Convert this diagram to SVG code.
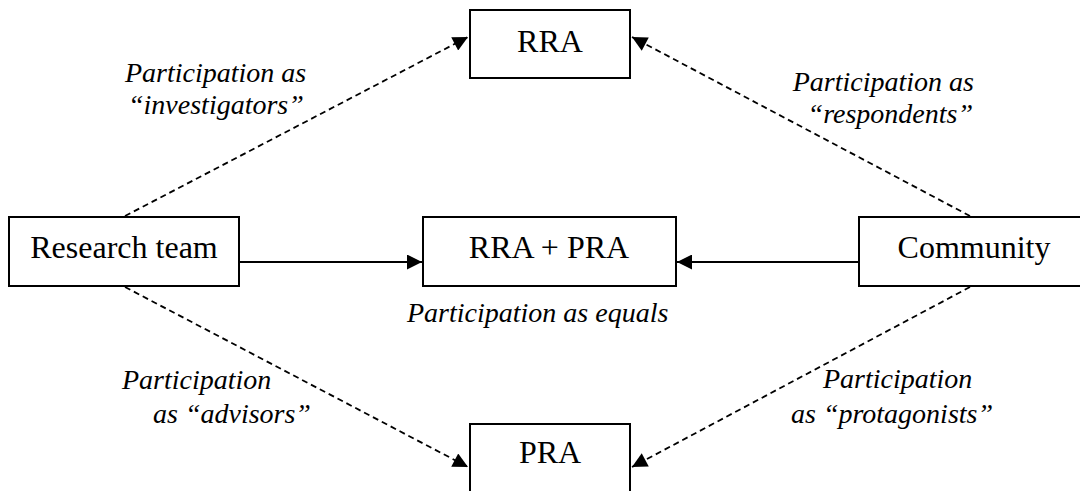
<svg xmlns="http://www.w3.org/2000/svg" width="1080" height="491" viewBox="0 0 1080 491">
  <style>
    .box { fill: #ffffff; stroke: #000000; stroke-width: 2; }
    .name { font-family: "Liberation Serif", "Times New Roman", serif; font-size: 32px; fill: #000000; }
    .note { font-family: "Liberation Serif", "Times New Roman", serif; font-size: 28px; font-style: italic; fill: #000000; }
    .solid { stroke: #000000; stroke-width: 2; fill: none; }
    .dash { stroke: #000000; stroke-width: 1.8; fill: none; stroke-dasharray: 6 4; }
  </style>
  <defs>
    <marker id="head" viewBox="0 0 10 10" refX="10" refY="5" markerWidth="17" markerHeight="15" markerUnits="userSpaceOnUse" orient="auto">
      <path d="M0,0 L10,5 L0,10 Z" fill="#000000"/>
    </marker>
  </defs>

  <rect width="1080" height="491" fill="#ffffff"/>

  <!-- connectors -->
  <g id="connectors">
    <line class="solid" x1="239" y1="262" x2="422" y2="262" marker-end="url(#head)"/>
    <line class="solid" x1="859" y1="262" x2="677" y2="262" marker-end="url(#head)"/>
    <line class="dash" x1="125" y1="216" x2="468" y2="37" marker-end="url(#head)"/>
    <line class="dash" x1="970" y1="216" x2="632" y2="37" marker-end="url(#head)"/>
    <line class="dash" x1="125" y1="287" x2="468" y2="467" marker-end="url(#head)"/>
    <line class="dash" x1="970" y1="287" x2="632" y2="467" marker-end="url(#head)"/>
  </g>

  <!-- nodes -->
  <g id="node-rra">
    <rect class="box" x="470" y="10" width="160" height="68"/>
    <text class="name" x="550" y="52" text-anchor="middle">RRA</text>
  </g>
  <g id="node-research-team">
    <rect class="box" x="9" y="217" width="230" height="69"/>
    <text class="name" x="124" y="258" text-anchor="middle">Research team</text>
  </g>
  <g id="node-rra-pra">
    <rect class="box" x="423" y="217" width="253" height="69"/>
    <text class="name" x="549" y="258" text-anchor="middle">RRA + PRA</text>
  </g>
  <g id="node-community">
    <rect class="box" x="859" y="217" width="240" height="69"/>
    <text class="name" x="974" y="258" text-anchor="middle">Community</text>
  </g>
  <g id="node-pra">
    <rect class="box" x="470" y="424" width="160" height="80"/>
    <text class="name" x="550" y="463" text-anchor="middle">PRA</text>
  </g>

  <!-- labels -->
  <g id="labels">
    <text class="note" x="125" y="82">Participation as</text>
    <text class="note" x="128" y="114">“investigators”</text>
    <text class="note" x="974" y="91" text-anchor="end">Participation as</text>
    <text class="note" x="973" y="123" text-anchor="end">“respondents”</text>
    <text class="note" x="407" y="322">Participation as equals</text>
    <text class="note" x="122" y="389">Participation</text>
    <text class="note" x="153" y="423">as “advisors”</text>
    <text class="note" x="823" y="388">Participation</text>
    <text class="note" x="791" y="423">as “protagonists”</text>
  </g>
</svg>
